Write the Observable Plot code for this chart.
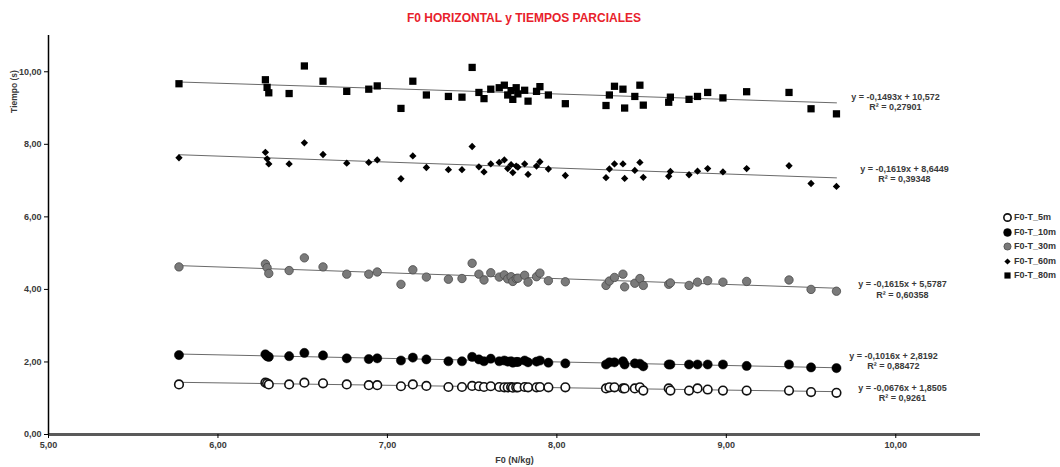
<!DOCTYPE html>
<html><head><meta charset="utf-8">
<script src="https://cdn.jsdelivr.net/npm/d3@7"></script>
<script src="https://cdn.jsdelivr.net/npm/@observablehq/plot@0.6"></script>
<style>
body{margin:0;background:#fff;font-family:"Liberation Sans",Arial,sans-serif;}
#wrap{position:relative;width:1060px;height:467px;overflow:hidden;}
#title{position:absolute;left:0;top:11px;width:1048px;text-align:center;color:#e8212b;font-weight:bold;font-size:12px;}
#chart{position:absolute;left:0;top:30px;}
#legend{position:absolute;left:1002px;top:210px;font-size:9px;font-weight:bold;color:#333;}
.item{display:flex;align-items:center;height:14.5px;}
.item svg{margin-right:2px;}
</style></head>
<body><div id="wrap"><div id="title">F0 HORIZONTAL y TIEMPOS PARCIALES</div><div id="chart"></div><div id="legend"></div></div>
<script>
const f0 = [5.77, 6.28, 6.29, 6.30, 6.42, 6.51, 6.62, 6.76, 6.89, 6.94, 7.08, 7.15, 7.23, 7.36, 7.44, 7.50, 7.54, 7.57, 7.61, 7.66, 7.69, 7.71, 7.73, 7.74, 7.76, 7.77, 7.81, 7.83, 7.88, 7.90, 7.95, 8.05, 8.29, 8.31, 8.34, 8.39, 8.40, 8.46, 8.49, 8.51, 8.66, 8.67, 8.78, 8.83, 8.89, 8.98, 9.12, 9.37, 9.50, 9.65];
const t5m = [1.38, 1.43, 1.41, 1.38, 1.38, 1.43, 1.41, 1.38, 1.36, 1.36, 1.33, 1.38, 1.34, 1.31, 1.31, 1.34, 1.33, 1.31, 1.33, 1.31, 1.30, 1.30, 1.31, 1.29, 1.30, 1.30, 1.31, 1.30, 1.30, 1.31, 1.30, 1.30, 1.27, 1.30, 1.30, 1.27, 1.27, 1.27, 1.30, 1.21, 1.27, 1.21, 1.21, 1.27, 1.24, 1.21, 1.21, 1.21, 1.17, 1.15];
const t10m = [2.19, 2.21, 2.16, 2.14, 2.16, 2.25, 2.18, 2.10, 2.08, 2.10, 2.04, 2.12, 2.07, 2.02, 2.02, 2.14, 2.07, 2.02, 2.09, 2.02, 2.04, 2.01, 2.02, 1.98, 2.00, 2.00, 2.04, 1.99, 2.01, 2.04, 1.98, 1.96, 1.93, 1.99, 1.99, 2.02, 1.93, 1.96, 1.95, 1.88, 1.93, 1.93, 1.93, 1.93, 1.93, 1.93, 1.89, 1.93, 1.85, 1.83];
const t30m = [4.62, 4.70, 4.60, 4.44, 4.52, 4.87, 4.62, 4.42, 4.42, 4.48, 4.14, 4.54, 4.34, 4.28, 4.30, 4.72, 4.42, 4.26, 4.46, 4.34, 4.40, 4.29, 4.35, 4.22, 4.30, 4.31, 4.39, 4.20, 4.35, 4.45, 4.24, 4.21, 4.11, 4.23, 4.33, 4.42, 4.07, 4.17, 4.30, 4.11, 4.14, 4.18, 4.11, 4.20, 4.24, 4.20, 4.22, 4.26, 4.00, 3.95];
const t60m = [7.63, 7.78, 7.60, 7.46, 7.46, 8.04, 7.72, 7.48, 7.50, 7.57, 7.05, 7.68, 7.36, 7.30, 7.30, 7.94, 7.38, 7.24, 7.46, 7.50, 7.57, 7.33, 7.44, 7.22, 7.40, 7.37, 7.46, 7.17, 7.40, 7.52, 7.32, 7.14, 7.08, 7.32, 7.46, 7.46, 7.06, 7.28, 7.50, 7.09, 7.12, 7.25, 7.16, 7.26, 7.33, 7.24, 7.33, 7.41, 6.92, 6.84];
const t80m = [9.67, 9.78, 9.57, 9.42, 9.40, 10.16, 9.74, 9.46, 9.52, 9.61, 8.99, 9.74, 9.36, 9.32, 9.30, 10.12, 9.43, 9.26, 9.52, 9.56, 9.63, 9.36, 9.48, 9.24, 9.56, 9.39, 9.49, 9.19, 9.46, 9.59, 9.36, 9.12, 9.07, 9.36, 9.60, 9.52, 9.00, 9.32, 9.63, 9.08, 9.16, 9.30, 9.24, 9.32, 9.43, 9.28, 9.45, 9.43, 8.98, 8.84];
const seriesNames = ["F0-T_5m", "F0-T_10m", "F0-T_30m", "F0-T_60m", "F0-T_80m"];
const equations = ["y = -0,0676x + 1,8505", "y = -0,1016x + 2,8192", "y = -0,1615x + 5,5787", "y = -0,1619x + 8,6449", "y = -0,1493x + 10,572"];
const r2Labels = ["R² = 0,9261", "R² = 0,88472", "R² = 0,60358", "R² = 0,39348", "R² = 0,27901"];
const yTicks = [0, 2, 4, 6, 8, 10];
const xTicks = [5, 6, 7, 8, 9, 10];

const seriesValues = [t5m, t10m, t30m, t60m, t80m];
const styles = [
  {symbol: "circle", fill: "white", stroke: "#111", strokeWidth: 1.6, r: 4.3},
  {symbol: "circle", fill: "#000", stroke: "#000", strokeWidth: 0.5, r: 4.6},
  {symbol: "circle", fill: "#7a7a7a", stroke: "#4a4a4a", strokeWidth: 0.8, r: 4.2},
  {symbol: "diamond2", fill: "#000", stroke: "none", strokeWidth: 0, r: 3.3},
  {symbol: "square", fill: "#000", stroke: "none", strokeWidth: 0, r: 4.1}
];
const labelOffsets = [{dx: 66, dy: 1}, {dx: 57, dy: -7}, {dx: 66, dy: 1}, {dx: 68, dy: -4}, {dx: 59, dy: -1}];

const rows = [];
seriesNames.forEach((s, k) => f0.forEach((x, i) => rows.push({x, y: seriesValues[k][i], s, k})));

// regression end points for labels
const labels = seriesNames.map((s, k) => {
  const ys = seriesValues[k];
  const mx = d3.mean(f0), my = d3.mean(ys);
  let num = 0, den = 0;
  f0.forEach((x, i) => { num += (x - mx) * (ys[i] - my); den += (x - mx) ** 2; });
  const b = num / den, a = my - b * mx;
  const xe = d3.max(f0);
  return {x: xe, y: a + b * xe, text: equations[k] + "\n" + r2Labels[k], k};
});

const fmt = d => d.toFixed(2).replace(".", ",");

const marks = [
  Plot.ruleY([0], {stroke: "#5a5a5a", strokeWidth: 3}),
  Plot.ruleX([5], {stroke: "#000", strokeWidth: 1.5}),
  Plot.axisY({ticks: yTicks, tickFormat: fmt, tickSize: 4, tickPadding: 3, fontSize: 9, fontWeight: "bold", fill: "#3a3a3a", label: null}),
  Plot.axisX({ticks: xTicks, tickFormat: fmt, tickSize: 4, tickPadding: 3, fontSize: 9, fontWeight: "bold", fill: "#3a3a3a", label: "F0 (N/kg)", labelAnchor: "center", labelOffset: 28, labelArrow: "none"}),
  Plot.text(["Tiempo (s)"], {frameAnchor: "top-left", rotate: -90, dx: -38, dy: 56, fontSize: 8.5, fontWeight: "bold", fill: "#3a3a3a", textAnchor: "middle"}),
  Plot.linearRegressionY(rows, {x: "x", y: "y", z: "s", stroke: "#6a6a6a", strokeWidth: 1, ci: 0})
];
styles.forEach((st, k) => {
  marks.push(Plot.dot(rows.filter(d => d.k === k), {x: "x", y: "y", symbol: () => st.symbol, r: st.r, fill: st.fill, stroke: st.stroke, strokeWidth: st.strokeWidth}));
});
labels.forEach((l, k) => {
  marks.push(Plot.text([l], {x: "x", y: "y", text: "text", dx: labelOffsets[k].dx, dy: labelOffsets[k].dy, fontSize: 9, fontWeight: "bold", fill: "#3a3a3a", lineHeight: 1.15, textAnchor: "middle"}));
});

const chart = Plot.plot({
  width: 1060,
  height: 437,
  marginLeft: 48,
  marginRight: 80,
  marginTop: 5,
  marginBottom: 33,
  style: {fontFamily: "'Liberation Sans', Arial, sans-serif", background: "white", overflow: "visible"},
  x: {domain: [5, 10.5]},
  y: {domain: [0, 11]},
  symbol: {type: "identity"},
  marks
});
document.getElementById("chart").appendChild(chart);

// legend
const leg = document.getElementById("legend");
seriesNames.forEach((s, k) => {
  const st = styles[k];
  const item = document.createElement("div");
  item.className = "item";
  const sw = Plot.plot({
    width: 10, height: 10, margin: 0,
    x: {domain: [0, 1], axis: null}, y: {domain: [0, 1], axis: null},
    style: {overflow: "visible", background: "transparent"},
    marks: [Plot.dot([0], {x: () => 0.5, y: () => 0.5, symbol: () => st.symbol, r: st.r * 0.85, fill: st.fill, stroke: st.stroke, strokeWidth: st.strokeWidth})]
  });
  item.appendChild(sw);
  const span = document.createElement("span");
  span.textContent = s;
  item.appendChild(span);
  leg.appendChild(item);
});
</script>
</body></html>
